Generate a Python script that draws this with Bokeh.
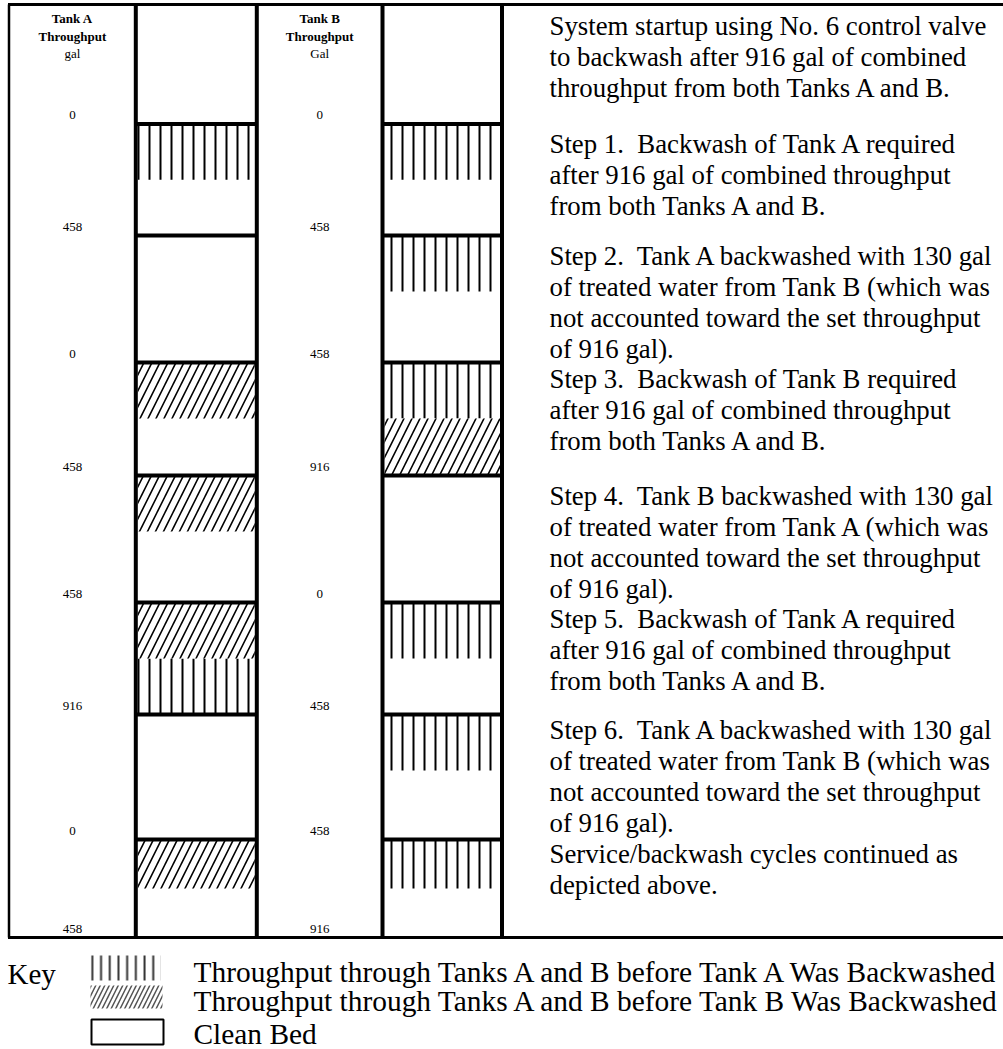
from bokeh.plotting import figure
from bokeh.models import Range1d, ColumnDataSource
from bokeh.embed import file_html
from bokeh.resources import INLINE
from bokeh.core.properties import value

# ---------------- data ----------------
HEADERS_A = ["Tank A", "Throughput", "gal"]
HEADERS_B = ["Tank B", "Throughput", "Gal"]
TANK_A_LABELS = ["0", "458", "0", "458", "458", "916", "0", "458"]
TANK_B_LABELS = ["0", "458", "458", "916", "0", "458", "458", "916"]
# fill of the first (upper) and second (lower) part of each step row
# "A" = throughput before Tank A was backwashed, "B" = before Tank B, "C" = clean bed
TANK_A_FIRST = ["A", "C", "B", "B", "B", "C", "B"]
TANK_A_SECOND = ["C", "C", "C", "C", "A", "C", "C"]
TANK_B_FIRST = ["A", "A", "A", "C", "A", "A", "A"]
TANK_B_SECOND = ["C", "C", "B", "C", "C", "C", "C"]
SP = "\u00a0 "
PARAGRAPHS = [
    ["System startup using No. 6 control valve", "to backwash after 916 gal of combined",
     "throughput from both Tanks A and B."],
    ["Step 1." + SP + "Backwash of Tank A required", "after 916 gal of combined throughput",
     "from both Tanks A and B."],
    ["Step 2." + SP + "Tank A backwashed with 130 gal", "of treated water from Tank B (which was",
     "not accounted toward the set throughput", "of 916 gal)."],
    ["Step 3." + SP + "Backwash of Tank B required", "after 916 gal of combined throughput",
     "from both Tanks A and B."],
    ["Step 4." + SP + "Tank B backwashed with 130 gal", "of treated water from Tank A (which was",
     "not accounted toward the set throughput", "of 916 gal)."],
    ["Step 5." + SP + "Backwash of Tank A required", "after 916 gal of combined throughput",
     "from both Tanks A and B."],
    ["Step 6." + SP + "Tank A backwashed with 130 gal", "of treated water from Tank B (which was",
     "not accounted toward the set throughput", "of 916 gal)."],
    ["Service/backwash cycles continued as", "depicted above."],
]
KEY_TITLE = "Key"
KEY_CODES = ["A", "B", "C"]
KEY_LABELS = ["Throughput through Tanks A and B before Tank A Was Backwashed",
              "Throughput through Tanks A and B before Tank B Was Backwashed",
              "Clean Bed"]

# ---------------- layout (page pixels) ----------------
W, H = 1003, 1049
ROW_EDGES = [4, 123.5, 235, 362, 475, 602, 714, 839, 937]
COL_X = [8.5, 135.3, 256.3, 382, 501.5]
SEG = 56
PARA_Y = [25, 143, 255, 378, 495, 618, 729, 853]
LINE_H = 31
TEXT_X = 549
SERIF = value("Liberation Serif")

STYLE = {
    "A": dict(hatch_pattern="|", hatch_scale=11, hatch_weight=2, hatch_color="black"),
    "B": dict(hatch_pattern="/", hatch_scale=16, hatch_weight=1.6, hatch_color="black"),
}

p = figure(width=W, height=H, x_range=Range1d(0, W), y_range=Range1d(H, 0),
           output_backend="svg", toolbar_location=None, min_border=0,
           x_axis_type=None, y_axis_type=None)
p.grid.visible = False
p.outline_line_color = None
p.background_fill_color = "white"
p.border_fill_color = "white"

# patterned segments
segs = {"A": dict(left=[], right=[], top=[], bottom=[]), "B": dict(left=[], right=[], top=[], bottom=[])}
cols = [((COL_X[1] + 2, COL_X[2] - 2), TANK_A_FIRST, TANK_A_SECOND),
        ((COL_X[3] + 2, COL_X[4] - 2), TANK_B_FIRST, TANK_B_SECOND)]
for (l, r), first, second in cols:
    for i in range(len(first)):
        t = ROW_EDGES[i + 1]
        b = ROW_EDGES[i + 2]
        m = t + min(SEG, (b - t) / 2)
        for code, y0, y1 in ((first[i], t, m), (second[i], m, b)):
            if code in segs:
                d = segs[code]
                d["left"].append(l); d["right"].append(r)
                d["top"].append(y0); d["bottom"].append(y1)
for code, d in segs.items():
    p.quad(source=ColumnDataSource(d), left="left", right="right", top="top", bottom="bottom",
           fill_color="white", line_color=None, **STYLE[code])

# grid lines
x0s, y0s, x1s, y1s, ws = [], [], [], [], []
for j, x in enumerate(COL_X):
    x0s.append(x); x1s.append(x); y0s.append(ROW_EDGES[0]); y1s.append(ROW_EDGES[-1])
    ws.append(2.5 if j == 0 else 4)
for y in (ROW_EDGES[0], ROW_EDGES[-1]):
    x0s.append(COL_X[0] - 1); x1s.append(W); y0s.append(y); y1s.append(y); ws.append(3)
for y in ROW_EDGES[1:-1]:
    for a, b in ((COL_X[1], COL_X[2]), (COL_X[3], COL_X[4])):
        x0s.append(a); x1s.append(b); y0s.append(y); y1s.append(y); ws.append(4)
p.segment(x0=x0s, y0=y0s, x1=x1s, y1=y1s, line_width=ws, line_color="black")

# header texts
hx, hy, ht, hs = [], [], [], []
for cx, hdr in (((COL_X[0] + COL_X[1]) / 2, HEADERS_A), ((COL_X[2] + COL_X[3]) / 2, HEADERS_B)):
    for k, t in enumerate(hdr):
        hx.append(cx); hy.append(18 + 17.5 * k); ht.append(t)
        hs.append("bold" if k < 2 else "normal")
p.text(x=hx, y=hy, text=ht, text_font_style=hs, text_font=SERIF, text_font_size="13px",
       text_align="center", text_baseline="middle", text_color="black")

# throughput labels
lx, ly, lt = [], [], []
for cx, labels in (((COL_X[0] + COL_X[1]) / 2, TANK_A_LABELS), ((COL_X[2] + COL_X[3]) / 2, TANK_B_LABELS)):
    for i, t in enumerate(labels):
        lx.append(cx); ly.append(ROW_EDGES[i + 1] - 9); lt.append(t)
p.text(x=lx, y=ly, text=lt, text_font=SERIF, text_font_size="13px",
       text_align="center", text_baseline="middle", text_color="black")

# description paragraphs
tx, ty, tt = [], [], []
for py, para in zip(PARA_Y, PARAGRAPHS):
    for k, line in enumerate(para):
        tx.append(TEXT_X); ty.append(py + LINE_H * k); tt.append(line)
p.text(x=tx, y=ty, text=tt, text_font=SERIF, text_font_size="26.8px",
       text_align="left", text_baseline="middle", text_color="black")

# key
p.text(x=[7], y=[973], text=[KEY_TITLE], text_font=SERIF, text_font_size="29px",
       text_align="left", text_baseline="middle", text_color="black")
KEY_BOX = {"A": (90, 160, 955, 980), "B": (90, 162, 985, 1008), "C": (91, 163, 1019, 1044)}
KEY_STYLE = {
    "A": dict(hatch_pattern="|", hatch_scale=8.7, hatch_weight=2, hatch_color="#333333"),
    "B": dict(hatch_pattern="/", hatch_scale=9, hatch_weight=1.5, hatch_color="#555555"),
}
for code in KEY_CODES:
    l, r, t, b = KEY_BOX[code]
    if code in KEY_STYLE:
        p.quad(left=[l], right=[r], top=[t], bottom=[b], fill_color="white", line_color=None,
               **KEY_STYLE[code])
    else:
        p.quad(left=[l], right=[r], top=[t], bottom=[b], fill_color="white",
               line_color="black", line_width=2)
p.text(x=[193] * 3, y=[971, 1000, 1033], text=KEY_LABELS, text_font=SERIF, text_font_size="29.4px",
       text_align="left", text_baseline="middle", text_color="black")

open("out.html", "w").write(file_html(p, INLINE))
